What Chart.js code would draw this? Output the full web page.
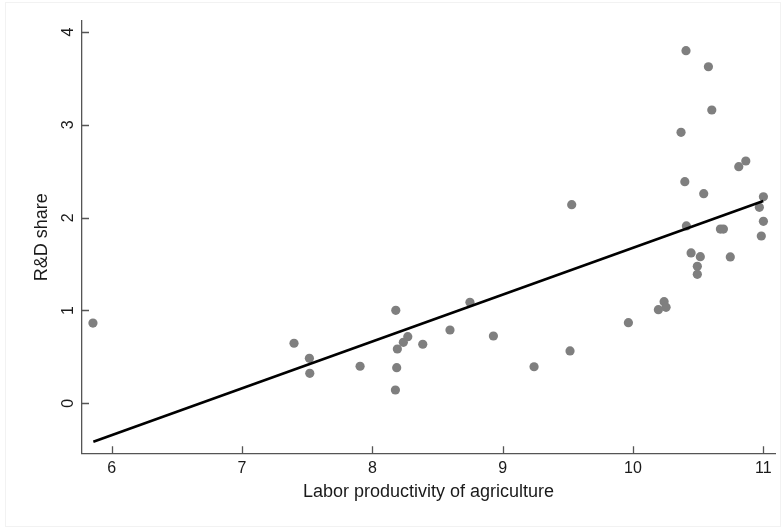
<!DOCTYPE html>
<html>
<head>
<meta charset="utf-8">
<script src="https://cdn.jsdelivr.net/npm/chart.js@4"></script>
<style>
    html, body { margin: 0; padding: 0; background: #fff; }
    #wrap { position: relative; width: 782px; height: 529px; }
    #frame { position: absolute; left: 5px; top: 2px; width: 776px; height: 525px; border: 1px solid #f2f2f2; box-sizing: border-box; }
    #myChart { position: absolute; left: 0; top: 0; }
</style>
</head>
<body>
<div id="wrap">
    <div id="frame"></div>
    <canvas id="myChart" width="782" height="529"></canvas>
</div>
<script>
// labor productivity of agriculture (x) vs R&D share (y)
var laborProd = [5.856, 7.399, 7.517, 7.520, 7.906, 8.180, 8.192, 8.187, 8.177, 8.238,
    8.272, 8.387, 8.596, 8.749, 8.929, 9.241, 9.517, 9.530, 9.965, 10.195,
    10.239, 10.254, 10.369, 10.407, 10.398, 10.410, 10.446, 10.494, 10.494, 10.517,
    10.543, 10.579, 10.605, 10.671, 10.694, 10.747, 10.812, 10.866, 10.970, 11.001,
    11.001, 10.985];
var rdShare = [0.865, 0.647, 0.485, 0.323, 0.399, 1.002, 0.585, 0.384, 0.143, 0.657,
    0.718, 0.636, 0.790, 1.088, 0.725, 0.394, 0.564, 2.140, 0.869, 1.009,
    1.095, 1.034, 2.920, 3.800, 2.388, 1.911, 1.620, 1.476, 1.390, 1.580,
    2.259, 3.627, 3.161, 1.878, 1.878, 1.577, 2.550, 2.611, 2.112, 2.226,
    1.961, 1.803];

// fitted line end points
var fitX = [5.859, 11.0];
var fitY = [-0.414, 2.18];

var xTicks = [6, 7, 8, 9, 10, 11];
var yTicks = [0, 1, 2, 3, 4];

var scatterPts = laborProd.map(function (v, i) { return { x: v, y: rdShare[i] }; });
var fitPts = fitX.map(function (v, i) { return { x: v, y: fitY[i] }; });

//ticks pointing into the plot, drawn after everything else
var innerTicks = {
    id: 'innerTicks',
    afterDraw: function (chart) {
        var ctx = chart.ctx;
        var area = chart.chartArea;
        var xs = chart.scales.x, ys = chart.scales.y;
        ctx.save();
        ctx.strokeStyle = '#555';
        ctx.lineWidth = 1.3;
        ctx.beginPath();
        xTicks.forEach(function (v) {
            var px = Math.round(xs.getPixelForValue(v)) + 0.5;
            ctx.moveTo(px, area.bottom);
            ctx.lineTo(px, area.bottom - 7);
        });
        yTicks.forEach(function (v) {
            var py = Math.round(ys.getPixelForValue(v)) + 0.5;
            ctx.moveTo(area.left, py);
            ctx.lineTo(area.left + 7, py);
        });
        ctx.stroke();
        ctx.restore();
    }
};

var ctx = document.getElementById('myChart').getContext('2d');
window.myChart = new Chart(ctx, {
    type: 'scatter',
    data: {
        datasets: [
            {
                type: 'line',
                data: fitPts,
                borderColor: '#000',
                borderWidth: 2.6,
                pointRadius: 0,
                fill: false,
                order: 0
            },
            {
                data: scatterPts,
                backgroundColor: '#7f7f7f',
                borderColor: '#7f7f7f',
                borderWidth: 0,
                pointRadius: 4.6,
                order: 1
            }
        ]
    },
    options: {
        responsive: false,
        animation: false,
        layout: { padding: { top: 21, right: 7, left: 0, bottom: 0 } },
        plugins: { legend: { display: false }, tooltip: { enabled: false } },
        scales: {
            x: {
                type: 'linear',
                min: 5.772,
                max: 11.09,
                afterBuildTicks: function (scale) {
                    scale.ticks = xTicks.map(function (v) { return { value: v }; });
                },
                afterFit: function (scale) { scale.height = 75.7; },
                grid: { display: true, drawOnChartArea: false, drawTicks: false },
                border: { display: true, color: '#555', width: 1.3 },
                ticks: {
                    color: '#1a1a1a',
                    padding: 6,
                    maxRotation: 0,
                    minRotation: 0,
                    font: { family: 'Arial, "Liberation Sans", sans-serif', size: 16 }
                },
                title: {
                    display: true,
                    text: 'Labor productivity of agriculture',
                    color: '#1a1a1a',
                    padding: { top: 0, bottom: 26 },
                    font: { family: 'Arial, "Liberation Sans", sans-serif', size: 18 }
                }
            },
            y: {
                type: 'linear',
                min: -0.539,
                max: 4.12,
                afterBuildTicks: function (scale) {
                    scale.ticks = yTicks.map(function (v) { return { value: v }; });
                },
                afterFit: function (scale) { scale.width = 82; },
                grid: { display: true, drawOnChartArea: false, drawTicks: false },
                border: { display: true, color: '#555', width: 1.3 },
                ticks: {
                    color: '#1a1a1a',
                    padding: 9,
                    crossAlign: 'center',
                    maxRotation: 90,
                    minRotation: 90,
                    font: { family: 'Arial, "Liberation Sans", sans-serif', size: 16 }
                },
                title: {
                    display: true,
                    text: 'R&D share',
                    color: '#1a1a1a',
                    padding: { top: 31, bottom: 0 },
                    font: { family: 'Arial, "Liberation Sans", sans-serif', size: 18 }
                }
            }
        }
    },
    plugins: [innerTicks]
});
</script>
</body>
</html>
